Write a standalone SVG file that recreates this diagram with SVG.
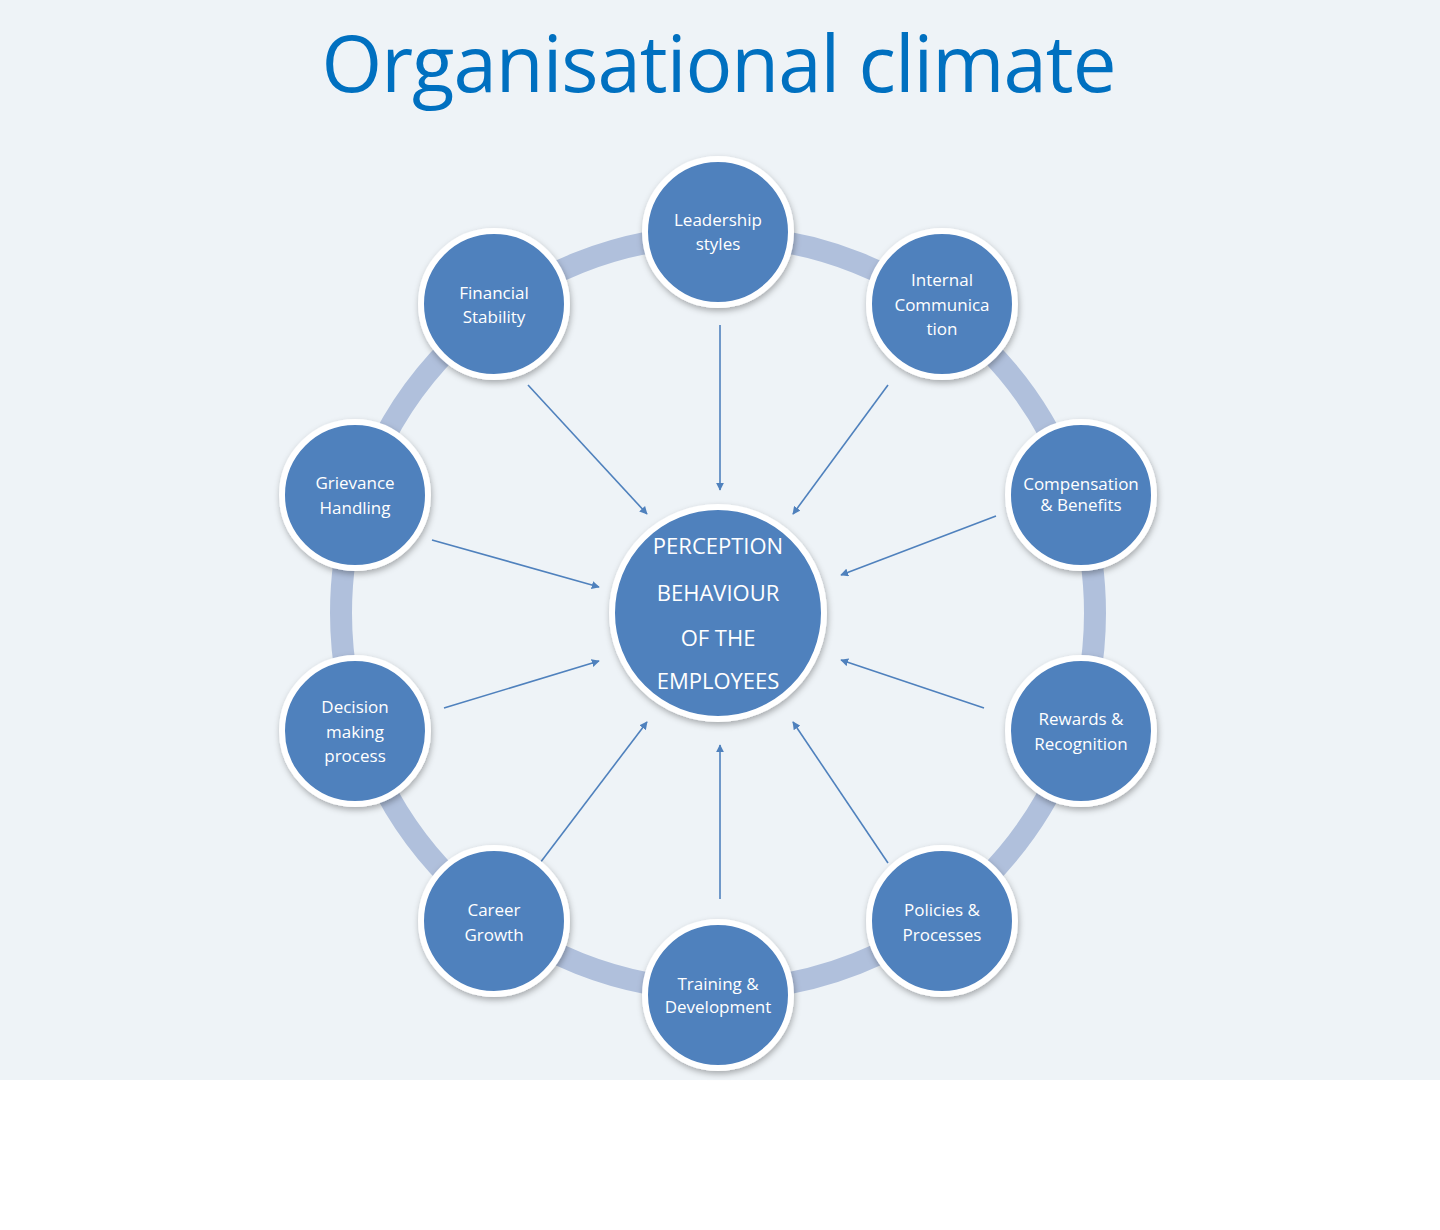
<svg xmlns="http://www.w3.org/2000/svg" width="1440" height="1230" viewBox="0 0 1440 1230">
<style>
.n{fill:#4F81BD;stroke:#fff;stroke-width:6;filter:url(#sh)}
.t{font-family:"Open Sans","Liberation Sans",sans-serif;font-size:17px;fill:#fff;text-anchor:middle}
.c{font-family:"Open Sans","Liberation Sans",sans-serif;font-size:22px;fill:#fff;text-anchor:middle}
.a{stroke:#4F81BD;stroke-width:1.6;fill:none;marker-end:url(#ar)}
</style>
<defs>
<marker id="ar" viewBox="0 0 10 10" refX="9" refY="5" markerWidth="8" markerHeight="8" orient="auto" markerUnits="userSpaceOnUse"><path d="M0,0L10,5L0,10z" fill="#4F81BD"/></marker>
<filter id="sh" x="-20%" y="-20%" width="140%" height="140%"><feDropShadow dx="1" dy="3" stdDeviation="3" flood-color="#000" flood-opacity="0.3"/></filter>
</defs>
<rect width="1440" height="1230" fill="#fff"/>
<rect width="1440" height="1080" fill="#EEF3F7"/>
<text x="719" y="92" font-family="Open Sans,Liberation Sans,sans-serif" font-size="78" fill="#0070C0" text-anchor="middle" textLength="795">Organisational climate</text>
<circle cx="718" cy="613" r="377" fill="none" stroke="#B0C0DC" stroke-width="22"/>
<g id="connectors">
<line class="a" x1="720" y1="325" x2="720" y2="490"/>
<line class="a" x1="888" y1="385" x2="793" y2="514"/>
<line class="a" x1="996" y1="516" x2="841" y2="575"/>
<line class="a" x1="984" y1="708" x2="841" y2="660"/>
<line class="a" x1="888" y1="863" x2="793" y2="722"/>
<line class="a" x1="720" y1="899" x2="720" y2="745"/>
<line class="a" x1="540" y1="863" x2="647" y2="722"/>
<line class="a" x1="444" y1="708" x2="599" y2="661"/>
<line class="a" x1="432" y1="540" x2="599" y2="587"/>
<line class="a" x1="528" y1="385" x2="647" y2="514"/>
</g>
<g id="center"><circle class="n" cx="718" cy="613" r="106"/>
<text class="c" x="718" y="554">PERCEPTION</text><text class="c" x="718" y="601">BEHAVIOUR</text><text class="c" x="718" y="646">OF THE</text><text class="c" x="718" y="689">EMPLOYEES</text></g>
<g id="leadership"><circle class="n" cx="718" cy="232" r="73"/><text class="t" x="718" y="226">Leadership</text><text class="t" x="718" y="250">styles</text></g>
<g id="internal"><circle class="n" cx="942" cy="304" r="73"/><text class="t" x="942" y="286">Internal</text><text class="t" x="942" y="311">Communica</text><text class="t" x="942" y="335">tion</text></g>
<g id="compensation"><circle class="n" cx="1081" cy="495" r="73"/><text class="t" x="1081" y="490" font-size="15">Compensation</text><text class="t" x="1081" y="511" font-size="15">&amp; Benefits</text></g>
<g id="rewards"><circle class="n" cx="1081" cy="731" r="73"/><text class="t" x="1081" y="725">Rewards &amp;</text><text class="t" x="1081" y="750">Recognition</text></g>
<g id="policies"><circle class="n" cx="942" cy="921" r="73"/><text class="t" x="942" y="916">Policies &amp;</text><text class="t" x="942" y="941">Processes</text></g>
<g id="training"><circle class="n" cx="718" cy="995" r="73"/><text class="t" x="718" y="990">Training  &amp;</text><text class="t" x="718" y="1013" font-size="16">Development</text></g>
<g id="career"><circle class="n" cx="494" cy="921" r="73"/><text class="t" x="494" y="916">Career</text><text class="t" x="494" y="941">Growth</text></g>
<g id="decision"><circle class="n" cx="355" cy="731" r="73"/><text class="t" x="355" y="713">Decision</text><text class="t" x="355" y="738">making</text><text class="t" x="355" y="762">process</text></g>
<g id="grievance"><circle class="n" cx="355" cy="495" r="73"/><text class="t" x="355" y="489">Grievance</text><text class="t" x="355" y="514">Handling</text></g>
<g id="financial"><circle class="n" cx="494" cy="304" r="73"/><text class="t" x="494" y="299">Financial</text><text class="t" x="494" y="323">Stability</text></g>
</svg>
